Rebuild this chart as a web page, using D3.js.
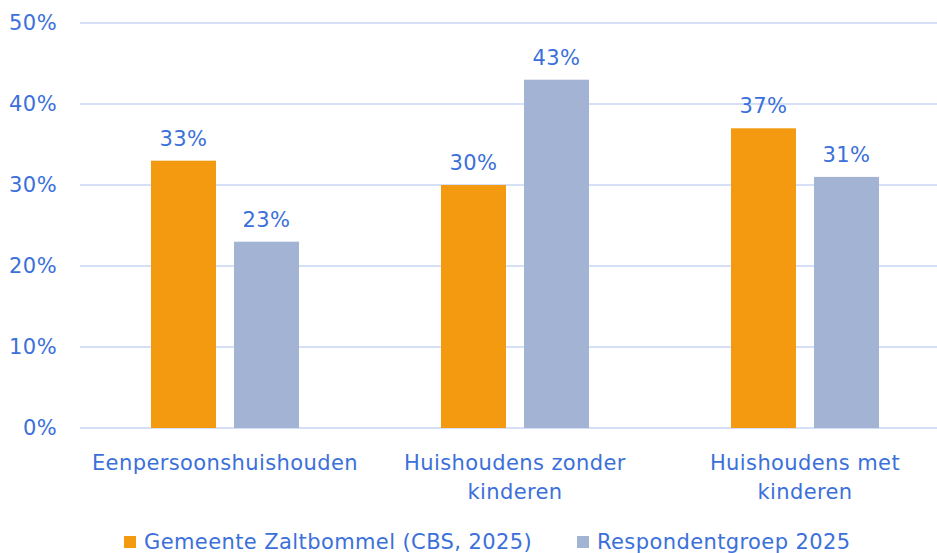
<!DOCTYPE html>
<html>
<head>
<meta charset="utf-8">
<script src="https://cdn.jsdelivr.net/npm/d3@7"></script>
<style>
  body { margin: 0; background: #fff; }
  svg { font-family: "DejaVu Sans", sans-serif; letter-spacing: 0.4px; }
</style>
</head>
<body>
<div class="container"></div>
<script>
const categories = ["Eenpersoonshuishouden", "Huishoudens zonder kinderen", "Huishoudens met kinderen"]
const catLines = [["Eenpersoonshuishouden"], ["Huishoudens zonder", "kinderen"], ["Huishoudens met", "kinderen"]]
const seriesNames = ["Gemeente Zaltbommel (CBS, 2025)", "Respondentgroep 2025"]
const gemeente = [33, 30, 37]
const respondent = [23, 43, 31]
const yTicks = [0, 10, 20, 30, 40, 50]

const w = 937
const h = 553
const colors = ["#F39A10", "#A2B3D3"]
const textColor = "#3B70DA"
const fs = 21

const svg = d3.select(".container")
  .append("svg")
  .attr("width", w)
  .attr("height", h)

const x = d3.scaleBand()
  .domain(categories)
  .range([80, 950])

const x1 = d3.scaleBand()
  .domain(seriesNames)
  .range([0, 148])
  .paddingInner(0.217)

const y = d3.scaleLinear()
  .domain([0, 50])
  .range([428, 23])

// gridlines
svg.selectAll("line.grid")
  .data(yTicks)
  .enter()
  .append("line")
  .attr("class", "grid")
  .attr("x1", 80)
  .attr("x2", w)
  .attr("y1", d => y(d))
  .attr("y2", d => y(d))
  .attr("stroke", "#D5E0F7")
  .attr("stroke-width", 2)

const yAxis = d3.axisLeft(y)
  .tickValues(yTicks)
  .tickFormat(d => d + "%")
  .tickSize(0)
  .tickPadding(0)

svg.append("g")
  .attr("transform", "translate(57,0)")
  .call(yAxis)
  .call(g => g.select(".domain").remove())
  .selectAll("text")
  .attr("fill", textColor)
  .attr("font-size", fs)
  .attr("font-family", "'DejaVu Sans', sans-serif")

const series = [gemeente, respondent]
const bars = []
series.forEach((vals, si) => {
  vals.forEach((v, ci) => {
    bars.push({ cat: categories[ci], name: seriesNames[si], value: v, si: si })
  })
})

const groupOffset = (x.bandwidth() - 148) / 2

svg.selectAll("rect.bar")
  .data(bars)
  .enter()
  .append("rect")
  .attr("class", "bar")
  .attr("x", d => x(d.cat) + groupOffset + x1(d.name))
  .attr("width", x1.bandwidth())
  .attr("y", d => y(d.value))
  .attr("height", d => y(0) - y(d.value))
  .attr("fill", d => colors[d.si])

svg.selectAll("text.val")
  .data(bars)
  .enter()
  .append("text")
  .attr("class", "val")
  .attr("x", d => x(d.cat) + groupOffset + x1(d.name) + x1.bandwidth() / 2)
  .attr("y", d => y(d.value) - 15)
  .attr("text-anchor", "middle")
  .attr("fill", textColor)
  .attr("font-size", fs)
  .text(d => d.value + "%")

// category labels
const catG = svg.selectAll("text.cat")
  .data(categories)
  .enter()
  .append("text")
  .attr("class", "cat")
  .attr("text-anchor", "middle")
  .attr("fill", textColor)
  .attr("font-size", fs)

catG.selectAll("tspan")
  .data((d, i) => catLines[i].map(t => ({ t: t, cat: d })))
  .enter()
  .append("tspan")
  .attr("x", d => x(d.cat) + x.bandwidth() / 2)
  .attr("y", (d, i) => 470 + i * 29)
  .text(d => d.t)

// legend
const legendX = [124, 577]
const lg = svg.selectAll("g.legend")
  .data(seriesNames)
  .enter()
  .append("g")
  .attr("class", "legend")
  .attr("transform", (d, i) => "translate(" + legendX[i] + ",536)")

lg.append("rect")
  .attr("width", 12)
  .attr("height", 12)
  .attr("fill", (d, i) => colors[i])

lg.append("text")
  .attr("x", 20)
  .attr("y", 13)
  .attr("fill", textColor)
  .attr("font-size", fs)
  .text(d => d)
</script>
</body>
</html>
